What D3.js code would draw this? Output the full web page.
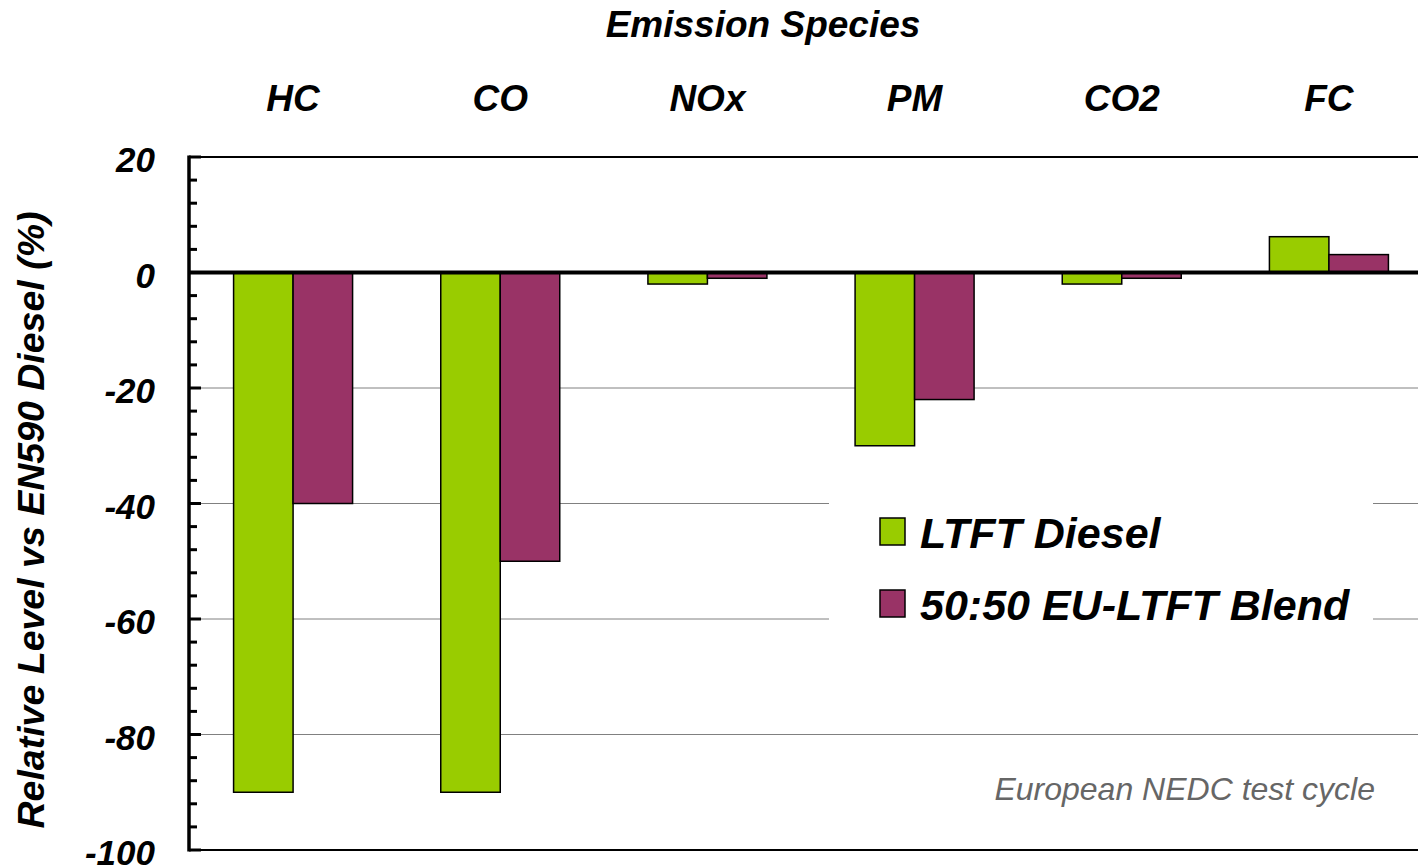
<!DOCTYPE html>
<html><head><meta charset="utf-8">
<script src="https://cdn.jsdelivr.net/npm/d3@7"></script>
<style>html,body{margin:0;padding:0;background:#fff;overflow:hidden}</style>
</head><body>
<svg id="c" width="1418" height="867"></svg>
<script>
const categories = ["HC", "CO", "NOx", "PM", "CO2", "FC"];
const seriesNames = ["LTFT Diesel", "50:50 EU-LTFT Blend"];
const ltftDiesel = [-90, -90, -2, -30, -2, 6.2];
const blend5050 = [-40, -50, -1, -22, -1, 3.1];
const majorTicks = [20, 0, -20, -40, -60, -80, -100];
const seriesColors = ["#99CC00", "#993366"];

(function () {
const svg = d3.select("#c");
const font = "'Liberation Sans', Arial, sans-serif";
const pLeft = 189, pRight = 1432.5, pTop = 157, pBottom = 850;

const y = d3.scaleLinear().domain([-100, 20]).range([pBottom, pTop]);
const x = d3.scaleBand().domain(categories).range([pLeft + 0.5, pRight]).paddingInner(0).paddingOuter(0);
const xs = d3.scaleBand().domain(seriesNames).range([0, 119]);

// gridlines
svg.append("g").selectAll("line").data([-20, -40, -60, -80]).join("line")
  .attr("x1", pLeft).attr("x2", pRight).attr("y1", d => y(d)).attr("y2", d => y(d))
  .attr("stroke", "#808080").attr("stroke-width", 1);
// top and bottom frame lines
svg.append("line").attr("x1", pLeft).attr("x2", pRight).attr("y1", y(20)).attr("y2", y(20))
  .attr("stroke", "#000").attr("stroke-width", 2);
svg.append("line").attr("x1", pLeft).attr("x2", pRight).attr("y1", y(-100)).attr("y2", y(-100))
  .attr("stroke", "#000").attr("stroke-width", 2);

// bars
const data = categories.map((c, i) => ({c, vals: [ltftDiesel[i], blend5050[i]]}));
const groups = svg.append("g").selectAll("g").data(data).join("g")
  .attr("transform", d => `translate(${x(d.c) + (x.bandwidth() - 119) / 2},0)`);
groups.selectAll("rect").data(d => d.vals.map((v, j) => ({v, s: seriesNames[j], j})))
  .join("rect")
  .attr("x", d => xs(d.s)).attr("width", xs.bandwidth())
  .attr("y", d => y(Math.max(0, d.v))).attr("height", d => Math.abs(y(d.v) - y(0)))
  .attr("fill", d => seriesColors[d.j]).attr("stroke", "#000").attr("stroke-width", 1.5);

// zero line
svg.append("line").attr("x1", pLeft).attr("x2", pRight).attr("y1", y(0)).attr("y2", y(0))
  .attr("stroke", "#000").attr("stroke-width", 4);

// y axis
const axisG = svg.append("g").attr("transform", `translate(${pLeft},0)`);
const minor = d3.range(-100, 20.001, 4);
axisG.selectAll("line.minor").data(minor).join("line").attr("class", "minor")
  .attr("x1", 0).attr("x2", d => (d % 20 === 0) ? 12 : 8)
  .attr("y1", d => y(d)).attr("y2", d => y(d))
  .attr("stroke", "#000").attr("stroke-width", 3);
axisG.append("line").attr("x1", 0).attr("x2", 0).attr("y1", y(20) - 1.5).attr("y2", y(-100) + 1.5)
  .attr("stroke", "#000").attr("stroke-width", 3.5);

svg.append("g").selectAll("text").data(majorTicks).join("text")
  .attr("x", 155).attr("y", d => y(d) + 15)
  .attr("text-anchor", "end")
  .style("font-family", font).style("font-weight", "bold").style("font-style", "italic")
  .style("font-size", "35px").text(d => d);

// category labels on top
svg.append("g").selectAll("text").data(categories).join("text")
  .attr("x", d => x(d) + x.bandwidth() / 2).attr("y", 111)
  .attr("text-anchor", "middle")
  .style("font-family", font).style("font-weight", "bold").style("font-style", "italic")
  .style("font-size", "37px").text(d => d);

svg.append("text").attr("x", 763).attr("y", 37).attr("text-anchor", "middle")
  .style("font-family", font).style("font-weight", "bold").style("font-style", "italic")
  .style("font-size", "37px").text("Emission Species");

svg.append("text").attr("transform", "translate(44,520) rotate(-90)").attr("text-anchor", "middle")
  .style("font-family", font).style("font-weight", "bold").style("font-style", "italic")
  .style("font-size", "37.5px").text("Relative Level vs EN590 Diesel (%)");

// legend
const lg = svg.append("g");
lg.append("rect").attr("x", 829).attr("y", 490).attr("width", 544).attr("height", 150).attr("fill", "#fff");
const li = lg.selectAll("g").data(seriesNames).join("g")
  .attr("transform", (d, i) => `translate(880,${518 + i * 72})`);
li.append("rect").attr("width", 25).attr("height", 27)
  .attr("fill", (d, i) => seriesColors[i]).attr("stroke", "#000").attr("stroke-width", 1.5);
li.append("text").attr("x", 40).attr("y", 30)
  .style("font-family", font).style("font-weight", "bold").style("font-style", "italic")
  .style("font-size", "43px").text(d => d);

svg.append("text").attr("x", 1375).attr("y", 800).attr("text-anchor", "end")
  .style("font-family", font).style("font-style", "italic").style("fill", "#666")
  .style("font-size", "32px").text("European NEDC test cycle");
})();
</script>
</body></html>
